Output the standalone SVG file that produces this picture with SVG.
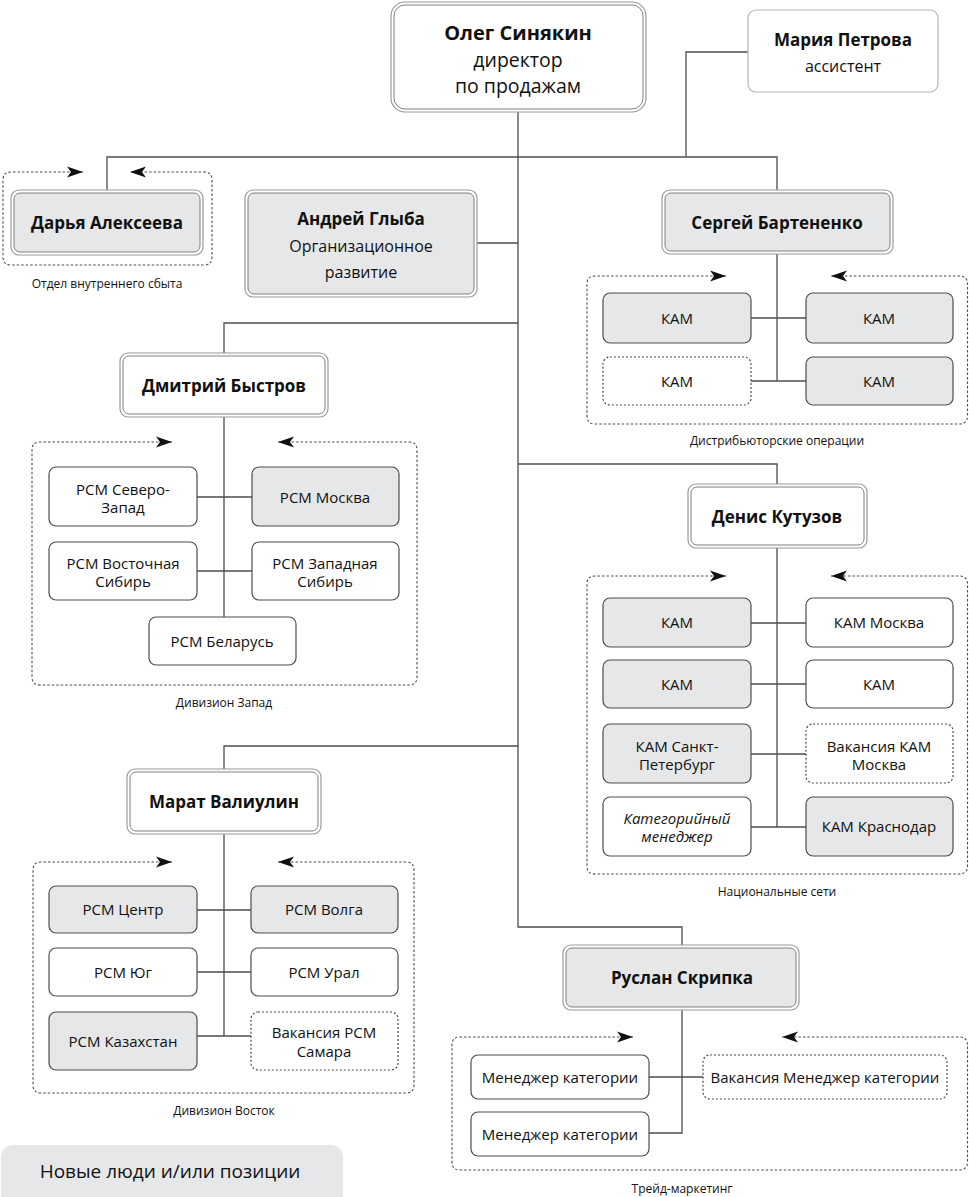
<svg xmlns="http://www.w3.org/2000/svg" width="969" height="1197" viewBox="0 0 969 1197">
<style>
text{font-family:"Open Sans","Noto Sans","DejaVu Sans",sans-serif;fill:#111;text-anchor:middle}
.t{font-size:15px}
.b{font-size:17px;font-weight:bold}
.l{font-size:12px}
.it{font-style:italic}
.n{fill:#fff;stroke:#4d4d4d;stroke-width:1.2}
.gf{fill:#e6e7e8}
.dt{stroke-dasharray:2 2}
.o{fill:#fff;stroke:#9a9a9a;stroke-width:1.2}
.in{fill:#fff;stroke:#808080;stroke-width:1}
.ing{fill:#e6e7e8;stroke:#808080;stroke-width:1}
.c{fill:none;stroke:#4d4d4d;stroke-width:1.3}
.grp{fill:none;stroke:#4d4d4d;stroke-width:1.1;stroke-dasharray:2.5 2;marker-start:url(#ah);marker-end:url(#ah)}
</style>
<defs>
<marker id="ah" markerUnits="userSpaceOnUse" markerWidth="16" markerHeight="12" viewBox="0 0 16 12" refX="16" refY="6" orient="auto-start-reverse">
<path d="M0,0.5 L16,6 L0,11.5 L4,6 z" fill="#111"/>
</marker>
</defs>

<g id="connectors">
<path class="c" d="M518,112 V927 H682 V945"/>
<path class="c" d="M107,190 V157 H777 V190"/>
<path class="c" d="M686,157 V52 H748"/>
<path class="c" d="M477,243 H518"/>
<path class="c" d="M777,254 V381 M751,318 H806 M751,381 H806"/>
<path class="c" d="M518,323 H224 V353"/>
<path class="c" d="M224,417 V617 M197,497 H252 M197,571 H252"/>
<path class="c" d="M518,464 H777 V484"/>
<path class="c" d="M777,548 V827 M751,623 H806 M751,684 H806 M751,754 H806 M751,827 H806"/>
<path class="c" d="M518,746 H224 V769"/>
<path class="c" d="M224,834 V1036 M197,910 H251 M197,972 H251 M197,1036 H251"/>
<path class="c" d="M682,1010 V1133 H649 M649,1077 H703"/>
</g>

<g id="groups">
<path class="grp" d="M83,172 L11,172 Q3,172 3,180 L3,257 Q3,265 11,265 L204,265 Q212,265 212,257 L212,180 Q212,172 204,172 L130,172"/>
<path class="grp" d="M726,276 L595,276 Q587,276 587,284 L587,416 Q587,424 595,424 L959,424 Q967.5,424 967.5,416 L967.5,284 Q967.5,276 959,276 L831,276"/>
<path class="grp" d="M172,442 L40,442 Q32,442 32,450 L32,677 Q32,685 40,685 L409,685 Q417,685 417,677 L417,450 Q417,442 409,442 L278,442"/>
<path class="grp" d="M726,576 L595,576 Q587,576 587,584 L587,866 Q587,874 595,874 L959,874 Q967.5,874 967.5,866 L967.5,584 Q967.5,576 959,576 L831,576"/>
<path class="grp" d="M172,862 L41,862 Q33,862 33,870 L33,1085 Q33,1093 41,1093 L406,1093 Q414,1093 414,1085 L414,870 Q414,862 406,862 L278,862"/>
<path class="grp" d="M633,1037 L460,1037 Q452,1037 452,1045 L452,1162 Q452,1170 460,1170 L959,1170 Q967.5,1170 967.5,1162 L967.5,1045 Q967.5,1037 959,1037 L782,1037"/>
<text class="l" x="107" y="288">Отдел внутреннего сбыта</text>
<text class="l" x="777" y="445">Дистрибьюторские операции</text>
<text class="l" x="224" y="707">Дивизион Запад</text>
<text class="l" x="777" y="896">Национальные сети</text>
<text class="l" x="224" y="1115">Дивизион Восток</text>
<text class="l" x="682" y="1193">Трейд-маркетинг</text>
</g>

<g id="n-sinyakin">
<rect class="o" x="391" y="2" width="255" height="110" rx="14"/>
<rect class="in" x="394" y="5" width="249" height="104" rx="11"/>
<text x="518" y="40" style="font-size:20px;font-weight:bold">Олег Синякин</text>
<text x="518" y="67" style="font-size:19.5px">директор</text>
<text x="518" y="93" style="font-size:19.5px">по продажам</text>
</g>

<g id="n-petrova">
<rect x="748" y="10" width="190" height="82" rx="8" fill="#fff" stroke="#b5b5b5" stroke-width="1.2"/>
<text class="b" x="843" y="46">Мария Петрова</text>
<text class="t" x="843" y="72" style="font-size:16px">ассистент</text>
</g>

<g id="n-alekseeva">
<rect class="o" x="11" y="190" width="192" height="65" rx="8"/>
<rect class="ing" x="14" y="193" width="186" height="59" rx="6"/>
<text class="b" x="107" y="229">Дарья Алексеева</text>
</g>

<g id="n-glyba">
<rect class="o" x="245" y="190" width="232" height="107" rx="8"/>
<rect class="ing" x="248" y="193" width="226" height="101" rx="6"/>
<text class="b" x="361" y="225">Андрей Глыба</text>
<text class="t" x="361" y="252" style="font-size:16px">Организационное</text>
<text class="t" x="361" y="278" style="font-size:16px">развитие</text>
</g>

<g id="n-bartenenko">
<rect class="o" x="662" y="190" width="231" height="64" rx="8"/>
<rect class="ing" x="665" y="193" width="225" height="58" rx="6"/>
<text class="b" x="777" y="229">Сергей Бартененко</text>
</g>
<g id="n-kam1"><rect class="n gf" x="603" y="293" width="148" height="50" rx="7"/><text class="t" x="677" y="324">КАМ</text></g>
<g id="n-kam2"><rect class="n gf" x="806" y="293" width="147" height="50" rx="7"/><text class="t" x="879" y="324">КАМ</text></g>
<g id="n-kam3"><rect class="n dt" x="603" y="357" width="148" height="48" rx="7"/><text class="t" x="677" y="387">КАМ</text></g>
<g id="n-kam4"><rect class="n gf" x="806" y="357" width="147" height="48" rx="7"/><text class="t" x="879" y="387">КАМ</text></g>

<g id="n-bystrov">
<rect class="o" x="120" y="353" width="208" height="64" rx="8"/>
<rect class="in" x="123" y="356" width="202" height="58" rx="6"/>
<text class="b" x="224" y="392">Дмитрий Быстров</text>
</g>
<g id="n-rsm-sz"><rect class="n" x="49" y="467" width="148" height="59" rx="7"/><text class="t" x="123" y="495">РСМ Северо-</text><text class="t" x="123" y="513">Запад</text></g>
<g id="n-rsm-msk"><rect class="n gf" x="252" y="467" width="147" height="59" rx="7"/><text class="t" x="325" y="503">РСМ Москва</text></g>
<g id="n-rsm-vs"><rect class="n" x="49" y="542" width="148" height="58" rx="7"/><text class="t" x="123" y="569">РСМ Восточная</text><text class="t" x="123" y="587">Сибирь</text></g>
<g id="n-rsm-zs"><rect class="n" x="252" y="542" width="147" height="58" rx="7"/><text class="t" x="325" y="569">РСМ Западная</text><text class="t" x="325" y="587">Сибирь</text></g>
<g id="n-rsm-by"><rect class="n" x="149" y="617" width="147" height="48" rx="7"/><text class="t" x="222" y="647">РСМ Беларусь</text></g>

<g id="n-kutuzov">
<rect class="o" x="688" y="484" width="179" height="64" rx="8"/>
<rect class="in" x="691" y="487" width="173" height="58" rx="6"/>
<text class="b" x="777" y="523">Денис Кутузов</text>
</g>
<g id="n-ns-kam1"><rect class="n gf" x="603" y="598" width="148" height="49" rx="7"/><text class="t" x="677" y="628">КАМ</text></g>
<g id="n-ns-kammsk"><rect class="n" x="806" y="598" width="147" height="49" rx="7"/><text class="t" x="879" y="628">КАМ Москва</text></g>
<g id="n-ns-kam2"><rect class="n gf" x="603" y="660" width="148" height="48" rx="7"/><text class="t" x="677" y="690">КАМ</text></g>
<g id="n-ns-kam3"><rect class="n" x="806" y="660" width="147" height="48" rx="7"/><text class="t" x="879" y="690">КАМ</text></g>
<g id="n-ns-spb"><rect class="n gf" x="603" y="724" width="148" height="59" rx="7"/><text class="t" x="677" y="752">КАМ Санкт-</text><text class="t" x="677" y="770">Петербург</text></g>
<g id="n-ns-vak"><rect class="n dt" x="806" y="724" width="147" height="59" rx="7"/><text class="t" x="879" y="752">Вакансия КАМ</text><text class="t" x="879" y="770">Москва</text></g>
<g id="n-ns-cat"><rect class="n" x="603" y="797" width="148" height="59" rx="7"/><text class="t it" x="677" y="824">Категорийный</text><text class="t it" x="677" y="842">менеджер</text></g>
<g id="n-ns-krd"><rect class="n gf" x="806" y="797" width="147" height="59" rx="7"/><text class="t" x="879" y="832">КАМ Краснодар</text></g>

<g id="n-valiulin">
<rect class="o" x="127" y="769" width="194" height="65" rx="8"/>
<rect class="in" x="130" y="772" width="188" height="59" rx="6"/>
<text class="b" x="224" y="808">Марат Валиулин</text>
</g>
<g id="n-rsm-c"><rect class="n gf" x="49" y="886" width="148" height="47" rx="7"/><text class="t" x="123" y="915">РСМ Центр</text></g>
<g id="n-rsm-v"><rect class="n gf" x="251" y="886" width="147" height="47" rx="7"/><text class="t" x="324" y="915">РСМ Волга</text></g>
<g id="n-rsm-yu"><rect class="n" x="49" y="948" width="148" height="48" rx="7"/><text class="t" x="123" y="978">РСМ Юг</text></g>
<g id="n-rsm-u"><rect class="n" x="251" y="948" width="147" height="48" rx="7"/><text class="t" x="324" y="978">РСМ Урал</text></g>
<g id="n-rsm-kz"><rect class="n gf" x="49" y="1012" width="148" height="58" rx="7"/><text class="t" x="123" y="1047">РСМ Казахстан</text></g>
<g id="n-rsm-sam"><rect class="n dt" x="251" y="1012" width="147" height="58" rx="7"/><text class="t" x="324" y="1038">Вакансия РСМ</text><text class="t" x="324" y="1057">Самара</text></g>

<g id="n-skripka">
<rect class="o" x="563" y="945" width="236" height="65" rx="8"/>
<rect class="ing" x="566" y="948" width="230" height="59" rx="6"/>
<text class="b" x="682" y="984">Руслан Скрипка</text>
</g>
<g id="n-mk1"><rect class="n" x="471" y="1055" width="178" height="44" rx="7"/><text class="t" x="560" y="1083">Менеджер категории</text></g>
<g id="n-mk-vak"><rect class="n dt" x="703" y="1055" width="244" height="44" rx="7"/><text class="t" x="825" y="1083">Вакансия Менеджер категории</text></g>
<g id="n-mk2"><rect class="n" x="471" y="1112" width="178" height="44" rx="7"/><text class="t" x="560" y="1140">Менеджер категории</text></g>

<g id="legend">
<rect x="1" y="1145" width="342" height="64" rx="12" fill="#e6e7e8"/>
<text x="170" y="1178" style="font-size:19px">Новые люди и/или позиции</text>
</g>
</svg>
